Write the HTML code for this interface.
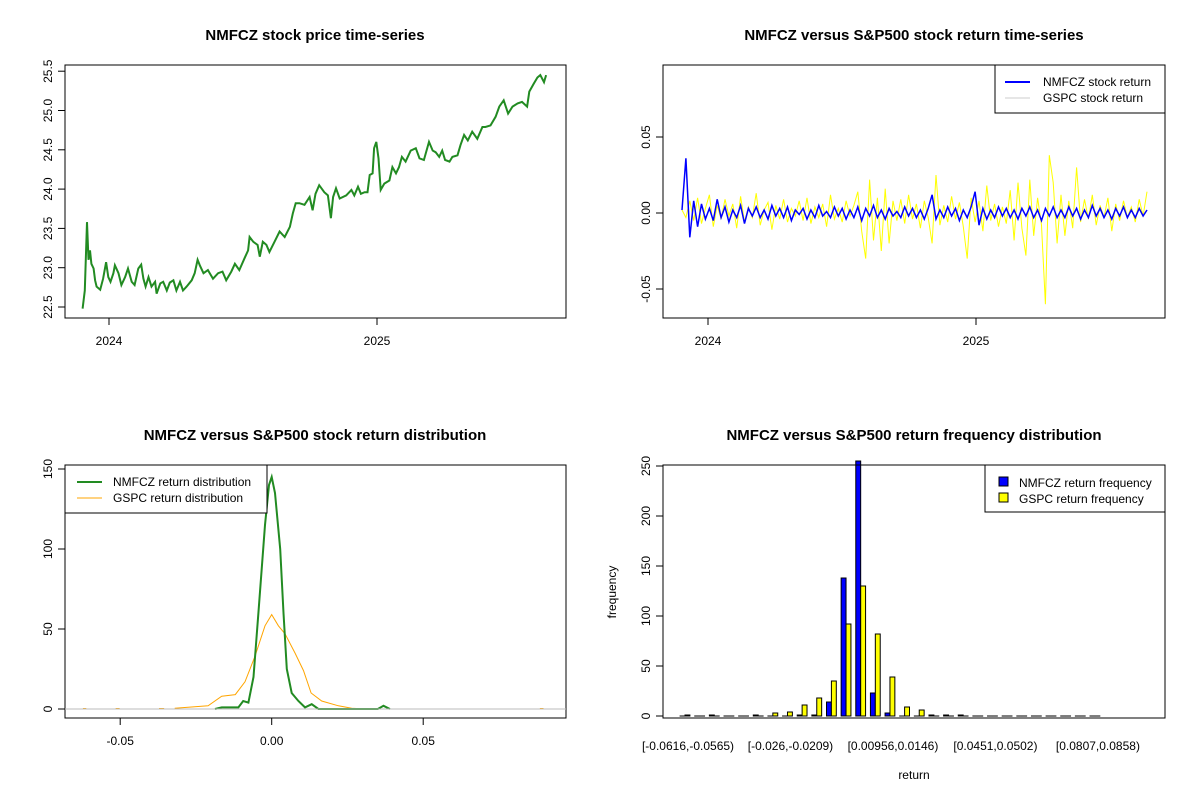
<!DOCTYPE html>
<html><head><meta charset="utf-8"><style>
html,body{margin:0;padding:0;background:#fff;}
svg{display:block;font-family:"Liberation Sans",Arial,sans-serif;}
</style></head><body>
<svg id="chart" width="1200" height="800" viewBox="0 0 1200 800" xmlns="http://www.w3.org/2000/svg">
<rect width="1200" height="800" fill="#fff"/>
<g font-size="15" font-weight="bold" text-anchor="middle" fill="#000">
<text x="315" y="40">NMFCZ stock price time-series</text>
<text x="914" y="40">NMFCZ versus S&amp;P500 stock return time-series</text>
<text x="315" y="440">NMFCZ versus S&amp;P500 stock return distribution</text>
<text x="914" y="440">NMFCZ versus S&amp;P500 return frequency distribution</text>
</g>
<g id="p1"></g>
<g id="p2"></g>
<g id="p3"></g>
<g id="p4"></g>
</svg>
<script>
// ---- price series (days since 2024-01-01, price)
const priceDays = [-36,-33,-30,-28,-26,-24,-21,-19,-17,-12,-8,-4,-1,2,6,8,13,17,22,26,31,35,40,44,47,50,54,58,63,65,70,74,79,83,88,92,97,101,106,113,117,121,124,129,135,142,149,155,160,167,172,178,185,190,192,197,203,206,210,215,219,226,233,240,247,251,255,260,267,274,278,282,287,294,299,303,306,310,315,324,331,335,340,344,349,353,356,360,362,365,368,371,376,383,387,392,396,400,405,412,419,424,430,437,442,446,451,455,459,465,469,476,480,485,490,496,503,510,514,521,528,533,539,545,551,558,564,571,574,580,585,589,594,597];
const priceValues = [22.48,22.71,23.58,23.10,23.22,23.05,22.99,22.84,22.76,22.72,22.86,23.07,22.88,22.82,22.93,23.03,22.93,22.78,22.88,22.99,22.82,22.78,22.99,23.04,22.86,22.76,22.88,22.76,22.82,22.67,22.80,22.82,22.71,22.81,22.84,22.71,22.82,22.71,22.76,22.84,22.93,23.10,23.03,22.93,22.97,22.86,22.93,22.95,22.84,22.95,23.05,22.97,23.12,23.22,23.39,23.33,23.29,23.14,23.33,23.29,23.20,23.33,23.46,23.39,23.52,23.69,23.82,23.82,23.80,23.90,23.73,23.94,24.05,23.96,23.92,23.63,23.90,24.01,23.88,23.92,23.99,23.92,24.03,23.94,23.96,23.96,24.18,24.20,24.52,24.60,24.39,23.99,24.07,24.11,24.28,24.20,24.28,24.41,24.35,24.49,24.52,24.39,24.37,24.60,24.49,24.47,24.41,24.49,24.37,24.35,24.41,24.43,24.56,24.69,24.62,24.73,24.64,24.79,24.79,24.81,24.92,25.05,25.13,24.96,25.05,25.09,25.11,25.05,25.24,25.34,25.42,25.45,25.36,25.45];
const priceTicks = [22.5,23.0,23.5,24.0,24.5,25.0,25.5];
const yearTicks = ["2024","2025"];
const yearTickDays = [0,366];
// ---- returns (x0.001)
const returnStartDay = -35.5, returnEndDay = 599.5;
const nmfczReturns = [2,36,-16,8,-9,6,-4,3,-5,9,-3,4,-6,2,-3,5,-7,3,-2,4,-3,2,-4,5,-2,3,-3,4,-5,2,-1,3,-4,2,-3,5,-2,1,-3,4,-2,3,-4,2,-3,4,-5,3,-2,5,-3,2,-4,3,-2,1,-3,4,-2,3,-3,2,-4,3,12,-4,2,-3,4,-2,3,-5,2,-3,4,14,-8,3,-4,2,-3,4,-2,3,-3,2,-4,3,-2,4,-3,2,-5,3,-2,4,-3,2,-3,4,-2,3,-4,2,-3,5,-2,3,-3,2,-4,3,-2,4,-3,2,-3,3,-2,2];
const gspcReturns = [2,-3,8,-5,10,-7,3,12,-9,5,-4,9,-2,6,-10,11,-6,4,-3,13,-8,2,7,-11,5,-4,9,-6,3,-2,8,-5,10,-7,4,-3,6,-9,12,-4,3,-6,8,-2,5,14,-12,-30,22,-18,10,-25,16,-20,8,-5,9,-7,12,-4,6,-10,8,-3,-20,25,-8,5,-6,11,-4,7,-9,-30,10,-6,8,-12,18,-5,6,-9,4,-7,15,-18,20,-10,-28,22,-15,10,-8,-60,38,20,-20,12,-15,8,-10,30,-6,9,-4,12,-8,5,-3,10,-12,6,-5,8,-3,4,-6,9,-2,14];
const returnTicks = [-0.05,0,0.05];
const returnTickLabels = ["-0.05","0.00","0.05"];
// ---- densities
const nmfczDensX = [-0.0187,-0.0165,-0.011,-0.0094,-0.0077,-0.006,-0.0044,-0.0022,-0.0009,0,0.0011,0.0028,0.0039,0.005,0.0066,0.0088,0.011,0.0132,0.0154,0.035,0.0369,0.039];
const nmfczDensY = [0,1,1,5,4,20,60,115,140,145,135,100,60,25,10,5,1,3,0,0,2,0];
const gspcDensX = [-0.032,-0.021,-0.0165,-0.012,-0.0088,-0.0055,-0.0022,0,0.0022,0.0044,0.0077,0.0105,0.013,0.0165,0.022,0.0264,0.031];
const gspcDensY = [0.5,2,8,9,17,33,52,59,52,47,35,24,10,5,2,0.5,0];
const densTicksX = [-0.05,0,0.05];
const densTickLabelsX = ["-0.05","0.00","0.05"];
const densTicksY = [0,50,100,150];
// ---- histogram
const histBlue = [0,0,1,0,0,1,0,0,1,1,14,138,255,23,3,0,0,1,1,1,0,0,0,0,0,0,0,0,0];
const histYellow = [1,0,0,0,0,0,3,4,11,18,35,92,130,82,39,9,6,0,0,0,0,0,0,0,0,0,0,0,0];
const histLabels = ["[-0.0616,-0.0565)","[-0.026,-0.0209)","[0.00956,0.0146)","[0.0451,0.0502)","[0.0807,0.0858)"];
const histLabelBins = [0,7,14,21,28];
const histTicksY = [0,50,100,150,200,250];

const NS="http://www.w3.org/2000/svg";
function mk(parent,tag,attrs,text){const e=document.createElementNS(NS,tag);for(const k in attrs)e.setAttribute(k,attrs[k]);if(text!==undefined)e.textContent=text;parent.appendChild(e);return e;}
function yTickLabel(g,x,y,t){const e=mk(g,'text',{x:x,y:y,transform:'rotate(-90 '+x+' '+y+')','text-anchor':'middle','font-size':12},t);return e;}

// ===== Panel 1
(function(){
const g=document.getElementById('p1');
const X=d=>109+d*(268/366), Y=v=>307-(v-22.5)*78.6;
let b=mk(g,'rect',{x:65,y:65,width:501,height:253,fill:'none',stroke:'#000'});

priceTicks.forEach(v=>{mk(g,'line',{x1:58,x2:65,y1:Y(v),y2:Y(v),stroke:'#000'});
 const t=yTickLabel(g,52,Y(v),v.toFixed(1));});
yearTicks.forEach((s,i)=>{const x=X(yearTickDays[i]);mk(g,'line',{x1:x,x2:x,y1:318,y2:325,stroke:'#000'});
 const t=mk(g,'text',{x:x,y:345,'text-anchor':'middle','font-size':12},s);});
const p=mk(g,'polyline',{points:priceDays.map((d,i)=>X(d).toFixed(1)+','+Y(priceValues[i]).toFixed(1)).join(' '),fill:'none',stroke:'#228B22','stroke-width':2});

})();

// ===== Panel 2
(function(){
const g=document.getElementById('p2');
const X=d=>708+d*(268/366), Y=v=>213-v*1520;
const n=nmfczReturns.length, step=(returnEndDay-returnStartDay)/(n-1);
let b=mk(g,'rect',{x:663,y:65,width:502,height:253,fill:'none',stroke:'#000'});

returnTicks.forEach((v,i)=>{mk(g,'line',{x1:656,x2:663,y1:Y(v),y2:Y(v),stroke:'#000'});
 const t=yTickLabel(g,650,Y(v),returnTickLabels[i]);});
yearTicks.forEach((s,i)=>{const x=X(yearTickDays[i]);mk(g,'line',{x1:x,x2:x,y1:318,y2:325,stroke:'#000'});
 const t=mk(g,'text',{x:x,y:345,'text-anchor':'middle','font-size':12},s);});
const ly=mk(g,'polyline',{points:gspcReturns.map((v,i)=>X(returnStartDay+i*step).toFixed(1)+','+Y(v/1000).toFixed(1)).join(' '),fill:'none',stroke:'#FFFF00','stroke-width':1});

const lb=mk(g,'polyline',{points:nmfczReturns.map((v,i)=>X(returnStartDay+i*step).toFixed(1)+','+Y(v/1000).toFixed(1)).join(' '),fill:'none',stroke:'#0000FF','stroke-width':1.5});

const lg=mk(g,'g',{});
mk(lg,'rect',{x:995,y:65,width:170,height:48,fill:'#fff',stroke:'#000'});
mk(lg,'line',{x1:1005,x2:1030,y1:82,y2:82,stroke:'#0000FF','stroke-width':2});
mk(lg,'line',{x1:1005,x2:1030,y1:98,y2:98,stroke:'#ccc','stroke-width':1});
mk(lg,'text',{x:1043,y:86,'font-size':12},'NMFCZ stock return');
mk(lg,'text',{x:1043,y:102,'font-size':12},'GSPC stock return');
})();

// ===== Panel 3
(function(){
const g=document.getElementById('p3');
const X=v=>271.7+v*3030, Y=v=>709-v*1.6;
let b=mk(g,'rect',{x:65,y:465,width:501,height:253,fill:'none',stroke:'#000'});

densTicksY.forEach(v=>{mk(g,'line',{x1:58,x2:65,y1:Y(v),y2:Y(v),stroke:'#000'});
 const t=yTickLabel(g,52,Y(v),String(v));});
densTicksX.forEach((v,i)=>{mk(g,'line',{x1:X(v),x2:X(v),y1:718,y2:725,stroke:'#000'});
 const t=mk(g,'text',{x:X(v),y:745,'text-anchor':'middle','font-size':12},densTickLabelsX[i]);});
[[-0.0623,-0.0612],[-0.0515,-0.0502],[-0.0372,-0.0355],[0.0885,0.0897]].forEach(r=>{mk(g,'line',{x1:X(r[0]),x2:X(r[1]),y1:Y(0.3),y2:Y(0.3),stroke:'#FFA500'});});
const o=mk(g,'polyline',{points:gspcDensX.map((x,i)=>X(x).toFixed(1)+','+Y(gspcDensY[i]).toFixed(1)).join(' '),fill:'none',stroke:'#FFA500','stroke-width':1});

const gr=mk(g,'polyline',{points:nmfczDensX.map((x,i)=>X(x).toFixed(1)+','+Y(nmfczDensY[i]).toFixed(1)).join(' '),fill:'none',stroke:'#228B22','stroke-width':2});

mk(g,'line',{x1:65,x2:566,y1:Y(0),y2:Y(0),stroke:'#bbb'});
const lg=mk(g,'g',{});
mk(lg,'rect',{x:65,y:465,width:202,height:48,fill:'#fff',stroke:'#000'});
mk(lg,'line',{x1:77,x2:102,y1:482,y2:482,stroke:'#228B22','stroke-width':2});
mk(lg,'line',{x1:77,x2:102,y1:498,y2:498,stroke:'#FFA500','stroke-width':1});
mk(lg,'text',{x:113,y:486,'font-size':12},'NMFCZ return distribution');
mk(lg,'text',{x:113,y:502,'font-size':12},'GSPC return distribution');
})();

// ===== Panel 4
(function(){
const g=document.getElementById('p4');
const C=i=>685+i*14.64, Y=v=>716-v*1.0, bw=4.9;
histTicksY.forEach(v=>{mk(g,'line',{x1:656,x2:663,y1:Y(v),y2:Y(v),stroke:'#000'});
 const t=yTickLabel(g,650,Y(v),String(v));});
histBlue.forEach((v,i)=>{const r=mk(g,'rect',{x:C(i)-bw,y:Y(v),width:bw,height:Math.max(v*1.0,0.01),fill:'#0000FF',stroke:'#000','stroke-width':1});
 });
histYellow.forEach((v,i)=>{const r=mk(g,'rect',{x:C(i),y:Y(v),width:bw,height:Math.max(v*1.0,0.01),fill:'#FFFF00',stroke:'#000','stroke-width':1});
 });
let b=mk(g,'rect',{x:663,y:465,width:502,height:253,fill:'none',stroke:'#000'});

histLabels.forEach((s,i)=>{const t=mk(g,'text',{x:C(histLabelBins[i])+3,y:750,'text-anchor':'middle','font-size':12},s);
 });
const xt=mk(g,'text',{x:914,y:779,'text-anchor':'middle','font-size':12},'return');
const yt=mk(g,'text',{x:616,y:592,transform:'rotate(-90 616 592)','text-anchor':'middle','font-size':12},'frequency');
const lg=mk(g,'g',{});
mk(lg,'rect',{x:985,y:465,width:180,height:47,fill:'#fff',stroke:'#000'});
mk(lg,'rect',{x:999,y:477,width:9,height:9,fill:'#0000FF',stroke:'#000'});
mk(lg,'rect',{x:999,y:493,width:9,height:9,fill:'#FFFF00',stroke:'#000'});
mk(lg,'text',{x:1019,y:487,'font-size':12},'NMFCZ return frequency');
mk(lg,'text',{x:1019,y:503,'font-size':12},'GSPC return frequency');
})();
</script>
</body></html>
